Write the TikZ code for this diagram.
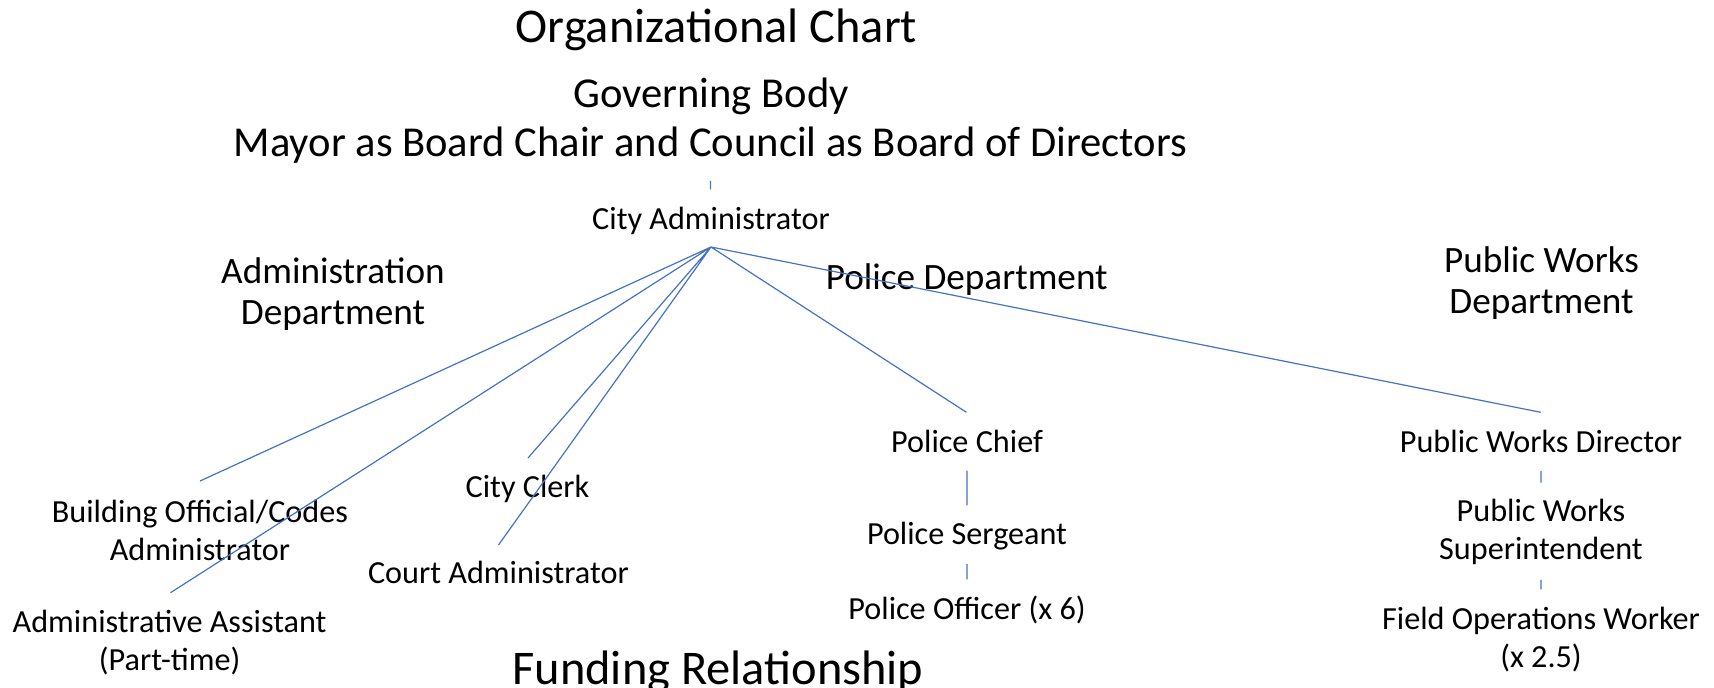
\documentclass[tikz,border=0pt]{standalone}
\usepackage{fontspec}
\setmainfont{Carlito}
\usepackage{tikz}
\usetikzlibrary{positioning}

\definecolor{linkblue}{HTML}{4472C4}

\tikzset{
	title/.style={font=\fontsize{24.2}{29}\selectfont, anchor=base, inner sep=0pt},
	gov/.style={font=\fontsize{21.3}{25}\selectfont, anchor=base, inner sep=0pt},
	head/.style={font=\fontsize{18.6}{20.7}\selectfont, align=center, anchor=base, inner sep=0pt},
	post/.style={font=\fontsize{16.1}{19.3}\selectfont, align=center, anchor=base, inner sep=0pt},
	link/.style={draw=linkblue, line width=0.6pt},
}

\begin{document}
\begin{tikzpicture}[x=0.5pt, y=-0.5pt]

	\useasboundingbox (0,0) rectangle (1714,688);

	\node[title] (orgchart) at (716.5,42.5) {Organizational Chart};
	\node[gov] (govbody) at (711,107.3) {Governing Body};
	\node[gov] (mayor) at (710.5,156.7) {Mayor as Board Chair and Council as Board of Directors};
	\node[post] (cityadmin) at (711,230) {City Administrator};

	\node[head] (admindept) at (333,325) {Administration\\Department};
	\node[head] (policedept) at (966.7,289.3) {Police Department};
	\node[head] (pwdept) at (1541.5,314) {Public Works\\Department};

	\node[post] (bldg) at (200,561) {Building Official/Codes\\Administrator};
	\node[post] (asst) at (169.6,671) {Administrative Assistant\\(Part-time)};
	\node[post] (clerk) at (527.5,497.3) {City Clerk};
	\node[post] (court) at (498.4,584) {Court Administrator};

	\node[post] (chief) at (967,452.7) {Police Chief};
	\node[post] (sergeant) at (967,545) {Police Sergeant};
	\node[post] (officer) at (967,620) {Police Officer (x 6)};

	\node[post] (pwdir) at (1541,453) {Public Works Director};
	\node[post] (pwsuper) at (1541,560) {Public Works\\Superintendent};
	\node[post] (fieldops) at (1541,668) {Field Operations Worker\\(x 2.5)};

	\node[title] (funding) at (718,685) {Funding Relationship};

	\coordinate (hub) at (711,247);
	\coordinate (bldgend) at (200,481);
	\coordinate (asstend) at (170.5,592.7);
	\coordinate (clerkend) at (528,458);
	\coordinate (courtend) at (498.5,545);
	\coordinate (chiefend) at (966.4,412.3);
	\coordinate (pwdirend) at (1540.7,412.3);

	\draw[link]
	(hub) -- (bldgend)
	(hub) -- (asstend)
	(hub) -- (clerkend)
	(hub) -- (courtend)
	(hub) -- (chiefend)
	(hub) -- (pwdirend)

	(mayor.base) ++(0,24.3) -- ++(0,8.3)
	(chief.base) ++(0,18) -- ++(0,34.6)
	(sergeant.base) ++(0,19) -- ++(0,15.3)
	(pwdir.base) ++(0,18) -- ++(0,11.7)
	(pwsuper.base) ++(0,20) -- ++(0,9.3)
	;
\end{tikzpicture}
\end{document}
